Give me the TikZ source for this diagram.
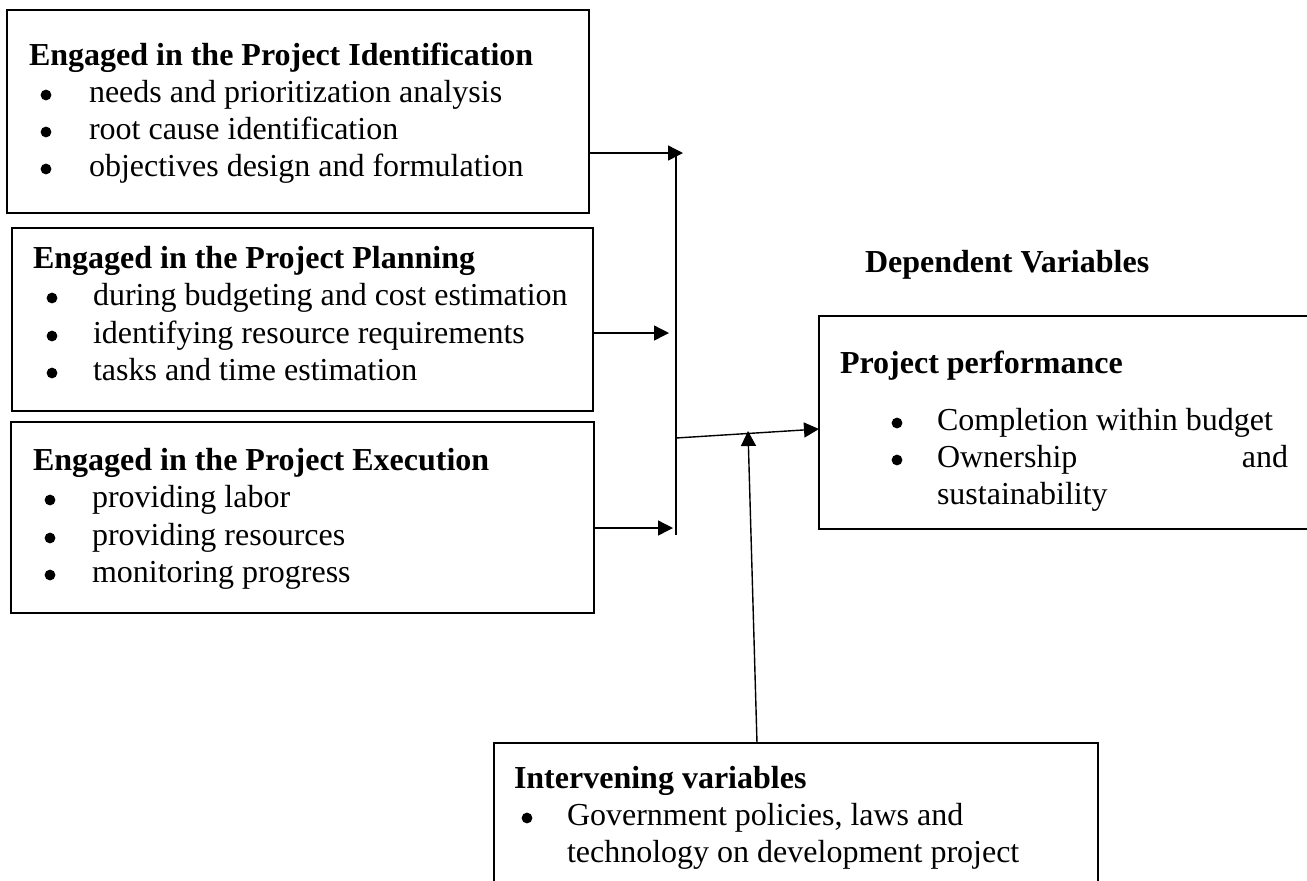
\documentclass[tikz,border=0pt]{standalone}
\usepackage{fontspec}
\setmainfont{Liberation Serif}
\usetikzlibrary{arrows.meta}
\begin{document}
\begin{tikzpicture}[x=0.5pt,y=-0.5pt,
  box/.style={draw, line width=1.4pt, inner sep=0pt, outer sep=0pt, anchor=north west},
  txt/.style={inner sep=0pt, outer sep=0pt, anchor=base west, font=\fontsize{16pt}{18.5pt}\selectfont},
  hd/.style={txt, font=\fontsize{16pt}{18.5pt}\selectfont\bfseries},
  dot/.style={circle, fill=black, inner sep=0pt, outer sep=0pt, minimum size=5.4pt},
  conn/.style={line width=0.7pt},
  arr/.style={conn, -{Triangle[length=7.5pt,width=7.5pt]}}]
\useasboundingbox (0,0) rectangle (1307,880);
\clip (0,0) rectangle (1307,880);

% boxes
\node[box, minimum width=291pt, minimum height=101.5pt] (b1) at (7,10) {};
\node[box, minimum width=290.5pt, minimum height=91.5pt] (b2) at (12,228) {};
\node[box, minimum width=291.5pt, minimum height=95.5pt] (b3) at (11,422) {};
\node[box, minimum width=244.5pt, minimum height=106.5pt] (dep) at (819,316) {};
\node[box, minimum width=302pt, minimum height=90pt] (iv) at (494,743) {};

% box 1
\node[hd] (h1) at (29,65) {Engaged in the Project Identification};
\node[dot] (p1a) at (46,95) {};
\node[txt] (t1a) at (89,102) {needs and prioritization analysis};
\node[dot] (p1b) at (46,132) {};
\node[txt] (t1b) at (89,139) {root cause identification};
\node[dot] (p1c) at (46,169) {};
\node[txt] (t1c) at (89,176) {objectives design and formulation};

% box 2
\node[hd] (h2) at (33,268) {Engaged in the Project Planning};
\node[dot] (p2a) at (52,298) {};
\node[txt] (t2a) at (93,305) {during budgeting and cost estimation};
\node[dot] (p2b) at (52,336) {};
\node[txt] (t2b) at (93,343) {identifying resource requirements};
\node[dot] (p2c) at (52,373) {};
\node[txt] (t2c) at (93,380) {tasks and time estimation};

% box 3
\node[hd] (h3) at (33,470) {Engaged in the Project Execution};
\node[dot] (p3a) at (50,500) {};
\node[txt] (t3a) at (92,507) {providing labor};
\node[dot] (p3b) at (50,538) {};
\node[txt] (t3b) at (92,545) {providing resources};
\node[dot] (p3c) at (50,575) {};
\node[txt] (t3c) at (92,582) {monitoring progress};

% dependent
\node[hd] (dv) at (865,272) {Dependent Variables};
\node[hd] (pp) at (840,373) {Project performance};
\node[dot] (pda) at (897,423) {};
\node[txt] (tda) at (937,430) {Completion within budget};
\node[dot] (pdb) at (897,460) {};
\node[txt] (tdb) at (937,467) {Ownership};
\node[txt, anchor=base east] (tdb2) at (1288,467) {and};
\node[txt] (tdc) at (937,504) {sustainability};

% intervening
\node[hd] (ivh) at (514,788) {Intervening variables};
\node[dot] (pia) at (527,818) {};
\node[txt] (tia) at (567,825) {Government policies, laws and};
\node[txt] (tib) at (567,862) {technology on development project};

% connectors
\coordinate (vtop) at (676,155);
\coordinate (vbot) at (676,535);
\draw[conn] (vtop) -- (vbot);
\coordinate (e1) at (683,153);
\coordinate (e2) at (669,333);
\coordinate (e3) at (673,528);
\draw[arr] (b1.east |- e1) -- (e1);
\draw[arr] (b2.east |- e2) -- (e2);
\draw[arr] (b3.east |- e3) -- (e3);
\coordinate (m) at (676,438);
\coordinate (mt) at (819,429);
\draw[arr] (m) -- (mt);
\coordinate (ivs) at (757,743);
\coordinate (ivt) at (748,431);
\draw[arr] (ivs) -- (ivt);
\end{tikzpicture}
\end{document}
